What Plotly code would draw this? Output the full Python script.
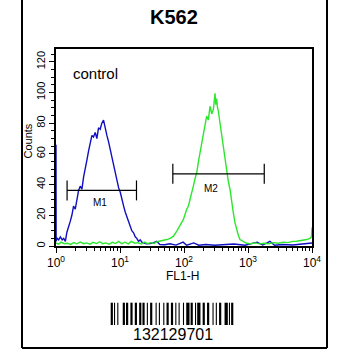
import math
import plotly.graph_objects as go

# ---------------- data ----------------
blue_x = [1.0, 1.005, 1.04, 1.1, 1.17, 1.25, 1.32, 1.40, 1.48, 1.57,
          1.67, 1.77, 1.88, 2.0, 2.12, 2.25, 2.39, 2.54, 2.70, 2.87,
          3.04, 3.23, 3.43, 3.64, 3.86, 4.1, 4.35, 4.62, 4.91, 5.2,
          5.53, 5.87, 6.24, 6.62, 7.03, 7.47, 7.93, 8.42, 8.94, 9.5,
          10.1, 10.7, 11.4, 12.1, 12.8, 13.6, 14.4, 15.3, 16.3, 17.3,
          18.3, 19.5, 20.7, 22, 23.3, 26, 29.6, 33, 37.6, 42,
          50, 60, 75, 97, 110, 142, 170, 220, 300, 400,
          600, 900, 1390, 1700, 2200, 2600, 3500, 5000, 7000, 10000]
blue_counts = [66, 3, 5, 4, 6, 4, 5, 3, 9, 12,
               16, 20, 26, 24, 30, 36, 39, 37, 45, 50,
               56, 62, 67, 72, 71, 74, 70, 77, 76, 80,
               82, 76, 72, 68, 63, 57, 52, 47, 43, 38,
               35, 30, 26, 22, 19, 15, 13, 10, 8.6, 6,
               5, 3, 4, 2.5, 2, 1.5, 1.6, 2, 3, 1,
               0.8, 1.5, 0.6, 2.5, 0.5, 2, 0.5, 1, 0.5, 0.8,
               1.3, 0.5, 2.5, 0.6, 3, 0.5, 1, 0.7, 1.5, 2]

green_x = [1.0, 1.1, 1.2, 1.35, 1.5, 1.7, 1.9, 2.1, 2.4, 2.7,
           3.0, 3.4, 3.8, 4.3, 4.8, 5.4, 6.0, 6.8, 7.6, 8.5,
           9.5, 10.7, 12, 13.5, 15, 17, 19, 21.5, 24, 27,
           30, 34, 38, 42.4, 48, 53.9, 61, 68.4, 77.1, 86.9,
           97.9, 110, 117, 124, 132, 140, 149, 158, 168, 178,
           189, 201, 213, 226, 240, 255, 271, 288, 296, 305,
           314, 324, 334, 344, 354, 365, 388, 412, 437, 464,
           493, 524, 556, 590, 627, 665, 706, 750, 845, 950,
           1100, 1300, 1500, 1800, 2100, 2500, 3000, 3560, 4200, 5000,
           5755, 6800, 8240, 9290, 9800, 10000]
green_counts = [2, 1.2, 2.5, 1.5, 1.8, 1, 2.2, 1.4, 2.6, 1.5,
                2, 1.2, 2.4, 1.6, 2.8, 1.5, 2, 1.2, 2.4, 1.6,
                3, 1.5, 2.5, 1.4, 3, 1.8, 2.2, 1.3, 2.6, 1.5,
                2.2, 1.6, 2.8, 3.1, 3.5, 4.2, 5, 6.4, 9.7, 14,
                17.3, 23.8, 26, 30.3, 34, 39, 44, 47.7, 55, 60.7,
                68, 73.7, 80, 84.6, 82, 91, 86, 89, 94, 99.5,
                92, 96, 90, 88, 84, 80, 72, 65, 55, 47.7,
                42, 36.8, 28, 21.6, 15, 10.7, 7, 4.2, 2.7, 1.8,
                1.5, 2, 1.4, 1.8, 1.5, 2.2, 1.8, 2.5, 2.2, 3,
                3.1, 3.5, 4.2, 5, 6, 12]

gate_names = ["M1", "M2"]
gate_lo = [1.49, 66.9]
gate_hi = [18.1, 1795]
gate_level = [36.2, 47.0]
gate_label_x = [4.8, 265]
gate_label_y = [28.3, 37.5]
gate_half = 6.5

x_tickvals = [1, 10, 100, 1000, 10000]
x_ticktext = ["10<sup>0</sup>", "10<sup>1</sup>", "10<sup>2</sup>", "10<sup>3</sup>", "10<sup>4</sup>"]
y_tickvals = [0, 20, 40, 60, 80, 100, 120]

title_text = "K562"
legend_text = "control"
x_title = "FL1-H"
y_title = "Counts"
barcode_number = "132129701"
barcode_pattern = ["211214", "212222", "222122", "122312", "131222",
                   "221213", "123122", "113222", "231212", "2331112"]

# ---------------- layout geometry ----------------
W = H = 350
ML, MR, MT, MB = 56, 38, 49, 104
PW = W - ML - MR
PH = H - MT - MB
PB = H - MB
FONT = "Liberation Sans, Arial, sans-serif"


def px(x):
    return (x - ML) / PW


def py(y):
    return (PB - y) / PH


fig = go.Figure()

fig.add_trace(go.Scatter(x=blue_x, y=blue_counts, mode="lines",
                         line=dict(color="#1010c0", width=1.4), hoverinfo="skip"))
fig.add_trace(go.Scatter(x=green_x, y=green_counts, mode="lines",
                         line=dict(color="#2ee62e", width=1.4), hoverinfo="skip"))

# gate markers
gx, gy = [], []
for lo, hi, lv in zip(gate_lo, gate_hi, gate_level):
    gx += [lo, lo, None, lo, hi, None, hi, hi, None]
    gy += [lv - gate_half, lv + gate_half, None, lv, lv, None, lv - gate_half, lv + gate_half, None]
fig.add_trace(go.Scatter(x=gx, y=gy, mode="lines", line=dict(color="black", width=1.2),
                         hoverinfo="skip"))

annotations = []
for name, lx, ly in zip(gate_names, gate_label_x, gate_label_y):
    annotations.append(dict(x=math.log10(lx), y=ly, xref="x", yref="y", text=name,
                            xanchor="center", yanchor="middle",
                            showarrow=False, font=dict(family=FONT, size=10, color="black")))


def paper_text(x, y, text, size, angle=0):
    return dict(x=px(x), y=py(y), xref="paper", yref="paper", text=text, textangle=angle,
                xanchor="center", yanchor="middle", showarrow=False,
                font=dict(family=FONT, size=size, color="black"))


annotations += [
    paper_text(174, 17, "<b>" + title_text + "</b>", 20),
    paper_text(95.5, 73, legend_text, 15),
    paper_text(182, 276, x_title, 12),
    paper_text(27.5, 141, y_title, 11, -90),
    paper_text(172.5, 334, barcode_number, 16),
]

shapes = []
# outer frame
for x0, y0, x1, y1 in [(22, -3, 22, 348), (327, -3, 327, 348), (22, 348, 327, 348)]:
    shapes.append(dict(type="line", xref="paper", yref="paper", x0=px(x0), y0=py(y0),
                       x1=px(x1), y1=py(y1), line=dict(color="black", width=2)))

# barcode
widths = [int(c) for s in barcode_pattern for c in s]
bx0, bx1, by0, by1 = 110.7, 233.3, 302.7, 325
mod = (bx1 - bx0) / sum(widths)
cur = bx0
for i, w in enumerate(widths):
    if i % 2 == 0:
        shapes.append(dict(type="rect", xref="paper", yref="paper", x0=px(cur), x1=px(cur + w * mod),
                           y0=py(by1), y1=py(by0), fillcolor="black", line=dict(width=0)))
    cur += w * mod

minor_x = [k * 10 ** d for d in range(4) for k in range(2, 10)]

fig.update_layout(
    width=W, height=H, margin=dict(l=ML, r=MR, t=MT, b=MB, pad=0),
    paper_bgcolor="white", plot_bgcolor="white", showlegend=False,
    annotations=annotations, shapes=shapes,
    font=dict(family=FONT, color="black"),
    xaxis=dict(type="log", range=[0, 4], showgrid=False, zeroline=False,
               showline=True, linecolor="black", linewidth=1.5, mirror=True,
               ticks="outside", ticklen=5, tickwidth=1, tickcolor="black",
               tickvals=x_tickvals, ticktext=x_ticktext,
               tickfont=dict(family=FONT, size=12, color="black"),
               minor=dict(tickvals=minor_x, ticks="outside", ticklen=3, tickwidth=1,
                          tickcolor="black")),
    yaxis=dict(range=[0, 128.3], showgrid=False, zeroline=False,
               showline=True, linecolor="black", linewidth=1.5, mirror=True,
               ticks="outside", ticklen=5, tickwidth=1, tickcolor="black",
               tickvals=y_tickvals, tickangle=-90,
               tickfont=dict(family=FONT, size=11, color="black"),
               minor=dict(dtick=5, ticks="outside", ticklen=3, tickwidth=1, tickcolor="black")),
)

fig.write_html("out.html")
